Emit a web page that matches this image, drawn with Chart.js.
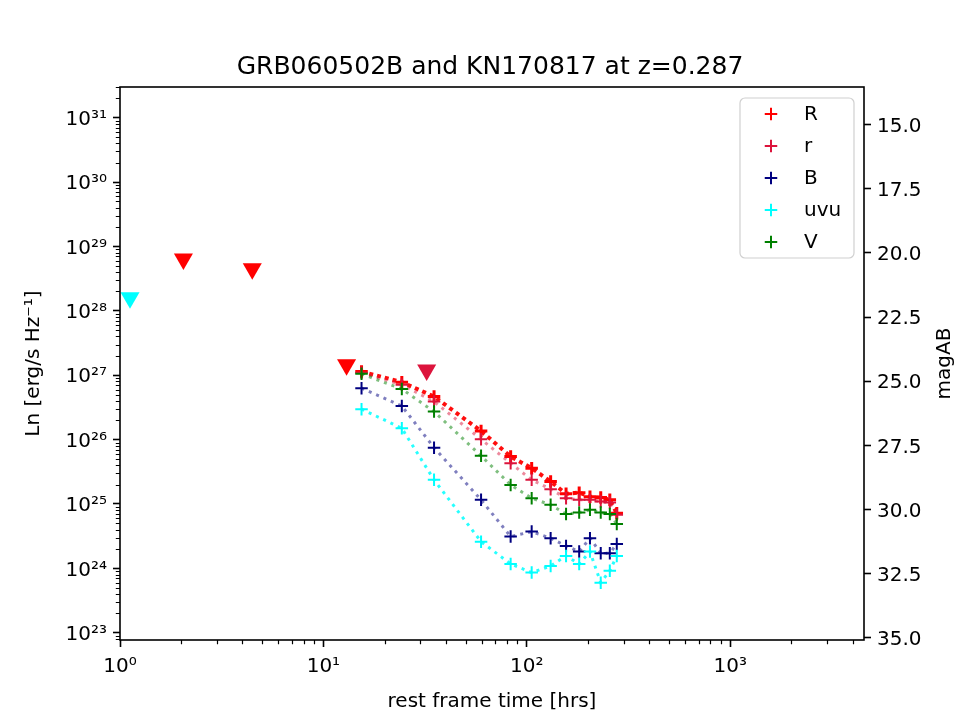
<!DOCTYPE html>
<html><head><meta charset="utf-8">
<script src="https://cdn.jsdelivr.net/npm/chart.js@4.4.0/dist/chart.umd.min.js"></script>
<style>html,body{margin:0;padding:0;background:#fff}#wrap{width:960px;height:720px;position:relative}</style>
</head><body><div id="wrap"><canvas id="c" width="960" height="720"></canvas></div>
<script>
// ---- data (rest-frame hours, Ln in erg/s/Hz) ----
const times = [15.4, 24.3, 35.0, 59.6, 83.3, 105.7, 131, 156, 181, 204.5, 231, 256, 277];
const R_vals   = [1.14e27, 7.8e26, 4.66e26, 1.36e26, 5.45e25, 3.6e25, 2.23e25, 1.44e25, 1.5e25, 1.30e25, 1.26e25, 1.16e25, 7.2e24];
const r_vals   = [1.09e27, 7.1e26, 3.9e26, 1.01e26, 4.3e25, 2.37e25, 1.7e25, 1.23e25, 1.16e25, 1.16e25, 1.09e25, 1.05e25, 6.8e24];
const B_vals   = [6.3e26, 3.33e26, 7.5e25, 1.16e25, 3.12e24, 3.72e24, 2.94e24, 2.23e24, 1.82e24, 2.94e24, 1.72e24, 1.72e24, 2.4e24];
const uvu_vals = [2.97e26, 1.5e26, 2.37e25, 2.6e24, 1.17e24, 8.6e23, 1.09e24, 1.56e24, 1.17e24, 1.82e24, 6.0e23, 9.2e23, 1.56e24];
const V_vals   = [1.05e27, 6.1e26, 2.72e26, 5.6e25, 1.98e25, 1.23e25, 9.7e24, 7.0e24, 7.35e24, 8.1e24, 7.35e24, 7.0e24, 4.9e24];

// upper limits (GRB060502B)
const limR_t   = [2.05, 4.47, 13.0];
const limR_L   = [6.4e28, 4.5e28, 1.45e27];
const limr_t   = [32.2];
const limr_L   = [1.2e27];
const limuvu_t = [1.12];
const limuvu_L = [1.6e28];

// axis ticks
const xMajor  = [1, 10, 100, 1000];
const yMajor  = [1e23, 1e24, 1e25, 1e26, 1e27, 1e28, 1e29, 1e30, 1e31];
const magTicks = [15.0, 17.5, 20.0, 22.5, 25.0, 27.5, 30.0, 32.5, 35.0];

const FONT = "'DejaVu Sans', sans-serif";
const SUP = {'0':'\u2070','1':'\u00b9','2':'\u00b2','3':'\u00b3','4':'\u2074','5':'\u2075','6':'\u2076','7':'\u2077','8':'\u2078','9':'\u2079','-':'\u207b'};
function powLabel(v){ const e = Math.round(Math.log10(v)); return '10' + String(e).split('').map(c => SUP[c]).join(''); }
function pts(xs, ys){ return xs.map((x, i) => ({x: x, y: ys[i]})); }

function bandSet(label, vals, color, lineColor, lw, dash, mw, order){
  return {
    label, inLegend: true, markerColor: color, markerWidth: mw,
    data: pts(times, vals), showLine: true,
    borderColor: lineColor, borderWidth: lw, borderDash: dash, borderCapStyle: 'butt',
    pointStyle: 'cross', pointRadius: 6.25, pointBorderWidth: mw,
    pointBorderColor: color, pointBackgroundColor: color, pointHoverRadius: 6.25,
    order
  };
}
function limSet(label, xs, ys, color, order){
  return {
    label, inLegend: false, data: pts(xs, ys), showLine: false,
    pointStyle: 'triangle', rotation: 180, pointRadius: 11, pointHoverRadius: 11,
    pointBackgroundColor: color, pointBorderColor: color, pointBorderWidth: 0, order
  };
}

const datasets = [
  bandSet('R',   R_vals,   '#ff0000', 'rgba(255,0,0,0.95)',   4, [4,4], 3, 5),
  bandSet('r',   r_vals,   '#dc143c', 'rgba(220,20,60,0.5)',  3, [3,5], 2, 4),
  bandSet('B',   B_vals,   '#000080', 'rgba(0,0,128,0.5)',    3, [3,5], 2, 3),
  bandSet('uvu', uvu_vals, '#00ffff', 'rgba(0,255,255,0.85)', 3, [3,5], 2, 2),
  bandSet('V',   V_vals,   '#008000', 'rgba(0,128,0,0.5)',    3, [3,5], 2, 1),
  limSet('R limits',   limR_t,   limR_L,   '#ff0000', 6),
  limSet('r limits',   limr_t,   limr_L,   '#dc143c', 6),
  limSet('uvu limits', limuvu_t, limuvu_L, '#00ffff', 6)
];

const frameAndMinor = {
  id: 'frameAndMinor',
  afterDraw(chart){
    const {ctx, chartArea: a, scales} = chart;
    ctx.save();
    ctx.strokeStyle = '#000';
    ctx.lineWidth = 1.2;
    const xs = scales.x, ys = scales.y;
    ctx.beginPath();
    for (let e = 0; e <= 3; e++) for (let k = 2; k <= 9; k++) {
      const v = k * Math.pow(10, e);
      if (v < xs.min || v > xs.max) continue;
      const px = Math.round(xs.getPixelForValue(v)) + 0.5;
      ctx.moveTo(px, a.bottom); ctx.lineTo(px, a.bottom + 4.2);
    }
    for (let e = 22; e <= 31; e++) for (let k = 2; k <= 9; k++) {
      const v = k * Math.pow(10, e);
      if (v < ys.min || v > ys.max) continue;
      const py = Math.round(ys.getPixelForValue(v)) + 0.5;
      ctx.moveTo(a.left - 4.2, py); ctx.lineTo(a.left, py);
    }
    ctx.stroke();
    ctx.lineWidth = 1.6;
    ctx.strokeRect(a.left, a.top, a.right - a.left, a.bottom - a.top);
    // right-axis title, reading bottom-to-top as in the reference
    ctx.fillStyle = '#000';
    ctx.font = '20px ' + FONT;
    ctx.textAlign = 'center';
    ctx.textBaseline = 'middle';
    ctx.translate(945, (a.top + a.bottom) / 2);
    ctx.rotate(-Math.PI / 2);
    ctx.fillText(chart.options.scales.y2.titleText, 0, 0);
    ctx.restore();
  }
};

const legendBox = {
  id: 'legendBox',
  afterDraw(chart){
    const {ctx, chartArea: a} = chart;
    const items = chart.data.datasets.filter(d => d.inLegend);
    const bw = 114, bh = 160;
    const bx = a.right - 10 - bw, by = a.top + 11;
    ctx.save();
    ctx.beginPath();
    ctx.roundRect(bx, by, bw, bh, 5);
    ctx.fillStyle = 'rgba(255,255,255,0.8)';
    ctx.fill();
    ctx.strokeStyle = '#d0d0d0';
    ctx.lineWidth = 1.2;
    ctx.stroke();
    ctx.font = '20px ' + FONT;
    ctx.textBaseline = 'middle';
    ctx.textAlign = 'left';
    items.forEach((d, i) => {
      const y = by + 16 + i * 32;
      const x = bx + 31;
      ctx.strokeStyle = d.markerColor;
      ctx.lineWidth = 2;
      ctx.beginPath();
      ctx.moveTo(x - 6.25, y); ctx.lineTo(x + 6.25, y);
      ctx.moveTo(x, y - 6.25); ctx.lineTo(x, y + 6.25);
      ctx.stroke();
      ctx.fillStyle = '#000';
      ctx.fillText(d.label, bx + 64, y + 1);
    });
    ctx.restore();
  }
};

const tickCommon = {color: '#000', font: {family: FONT, size: 20}};
const gridCommon = {drawOnChartArea: false, drawTicks: true, tickLength: 7, tickColor: '#000', tickWidth: 1.6, color: 'rgba(0,0,0,0)'};

new Chart(document.getElementById('c'), {
  type: 'scatter',
  data: {datasets},
  options: {
    responsive: false,
    animation: false,
    devicePixelRatio: 1,
    layout: {padding: {left: 20, right: 0, top: 0, bottom: 0}},
    plugins: {
      legend: {display: false},
      tooltip: {enabled: false},
      title: {
        display: true,
        text: 'GRB060502B and KN170817 at z=0.287',
        color: '#000',
        font: {family: FONT, size: 25, weight: 'normal'},
        padding: {top: 52, bottom: 5}
      }
    },
    scales: {
      x: {
        type: 'logarithmic', position: 'bottom', min: 1, max: 4550,
        afterBuildTicks: s => { s.ticks = xMajor.map(v => ({value: v})); },
        afterFit: s => { s.height = 80; },
        ticks: Object.assign({}, tickCommon, {padding: 8, autoSkip: false, maxRotation: 0, callback: v => powLabel(v)}),
        grid: gridCommon,
        border: {display: false},
        title: {display: true, text: 'rest frame time [hrs]', color: '#000', font: {family: FONT, size: 20}, padding: {top: 0, bottom: 6}}
      },
      y: {
        type: 'logarithmic', position: 'left', min: 7.71e22, max: 3.0e31,
        afterBuildTicks: s => { s.ticks = yMajor.map(v => ({value: v})); },
        afterFit: s => { s.width = 100; },
        ticks: Object.assign({}, tickCommon, {padding: 6, labelOffset: 2, autoSkip: false, callback: v => powLabel(v)}),
        grid: gridCommon,
        border: {display: false},
        title: {display: true, text: 'Ln [erg/s Hz\u207b\u00b9]', color: '#000', font: {family: FONT, size: 20}, padding: {top: 2, bottom: 0}}
      },
      y2: {
        type: 'linear', position: 'right', reverse: true, min: 13.54, max: 35.08,
        titleText: 'magAB',
        afterBuildTicks: s => { s.ticks = magTicks.map(v => ({value: v})); },
        afterFit: s => { s.width = 96; },
        ticks: Object.assign({}, tickCommon, {padding: 6, labelOffset: 2, autoSkip: false, callback: v => Number(v).toFixed(1)}),
        grid: gridCommon,
        border: {display: false},
        title: {display: false, text: 'magAB'}
      }
    }
  },
  plugins: [frameAndMinor, legendBox]
});
</script>
</body></html>
